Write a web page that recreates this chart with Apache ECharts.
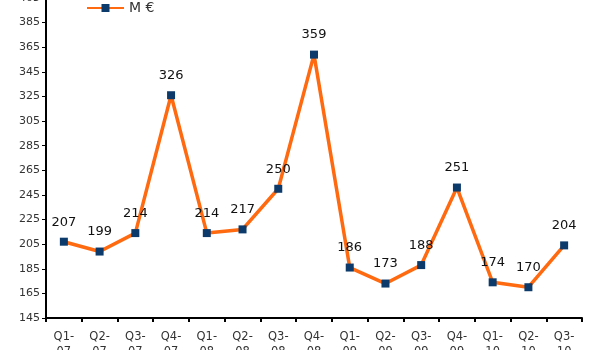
<!DOCTYPE html>
<html>
<head>
<meta charset="utf-8">
<script src="https://cdn.jsdelivr.net/npm/echarts@6/dist/echarts.min.js"></script>
<style>html,body{margin:0;padding:0;background:#fff}#c{width:600px;height:350px}</style>
</head>
<body>
<div id="c"></div>
<script>
// Quarterly amounts in millions of euros
const quarters = ['Q1-\n07','Q2-\n07','Q3-\n07','Q4-\n07','Q1-\n08','Q2-\n08','Q3-\n08','Q4-\n08','Q1-\n09','Q2-\n09','Q3-\n09','Q4-\n09','Q1-\n10','Q2-\n10','Q3-\n10'];
const amounts = [207,199,214,326,214,217,250,359,186,173,188,251,174,170,204];
const yTicks = [145,165,185,205,225,245,265,285,305,325,345,365,385,405];

const chart = echarts.init(document.getElementById('c'), null, {renderer: 'canvas'});
const font = '"DejaVu Sans", Verdana, sans-serif';
chart.setOption({
  animation: false,
  textStyle: {fontFamily: font},
  legend: {
    data: ['M €'],
    left: 86, top: 1, padding: 0,
    itemWidth: 37, itemHeight: 10, itemGap: 4,
    textStyle: {fontSize: 14, color: '#333', fontFamily: font}
  },
  grid: {left: 46, right: 18, top: -2, bottom: 32, containLabel: false, outerBoundsMode: 'none'},
  xAxis: {
    type: 'category',
    data: quarters,
    boundaryGap: true,
    axisLine: {lineStyle: {color: '#000', width: 2}},
    axisTick: {show: true, inside: false, length: 4, lineStyle: {color: '#000', width: 2}},
    axisLabel: {color: '#333', fontSize: 11.5, lineHeight: 15, margin: 12, interval: 0, fontFamily: font}
  },
  yAxis: {
    type: 'value',
    min: yTicks[0], max: yTicks[yTicks.length - 1],
    axisLine: {show: true, lineStyle: {color: '#000', width: 2}},
    axisTick: {show: true, length: 4, lineStyle: {color: '#000', width: 1}, customValues: yTicks},
    axisLabel: {color: '#333', fontSize: 11, margin: 6, customValues: yTicks, fontFamily: font},
    splitLine: {show: false}
  },
  series: [{
    name: 'M €',
    type: 'line',
    data: amounts,
    symbol: 'rect',
    symbolSize: 8,
    lineStyle: {color: '#FF6A10', width: 3.5},
    itemStyle: {color: '#0C3A6B'},
    label: {show: true, position: 'top', distance: 9, color: '#111', fontSize: 13, fontFamily: font}
  }]
});
</script>
</body>
</html>
